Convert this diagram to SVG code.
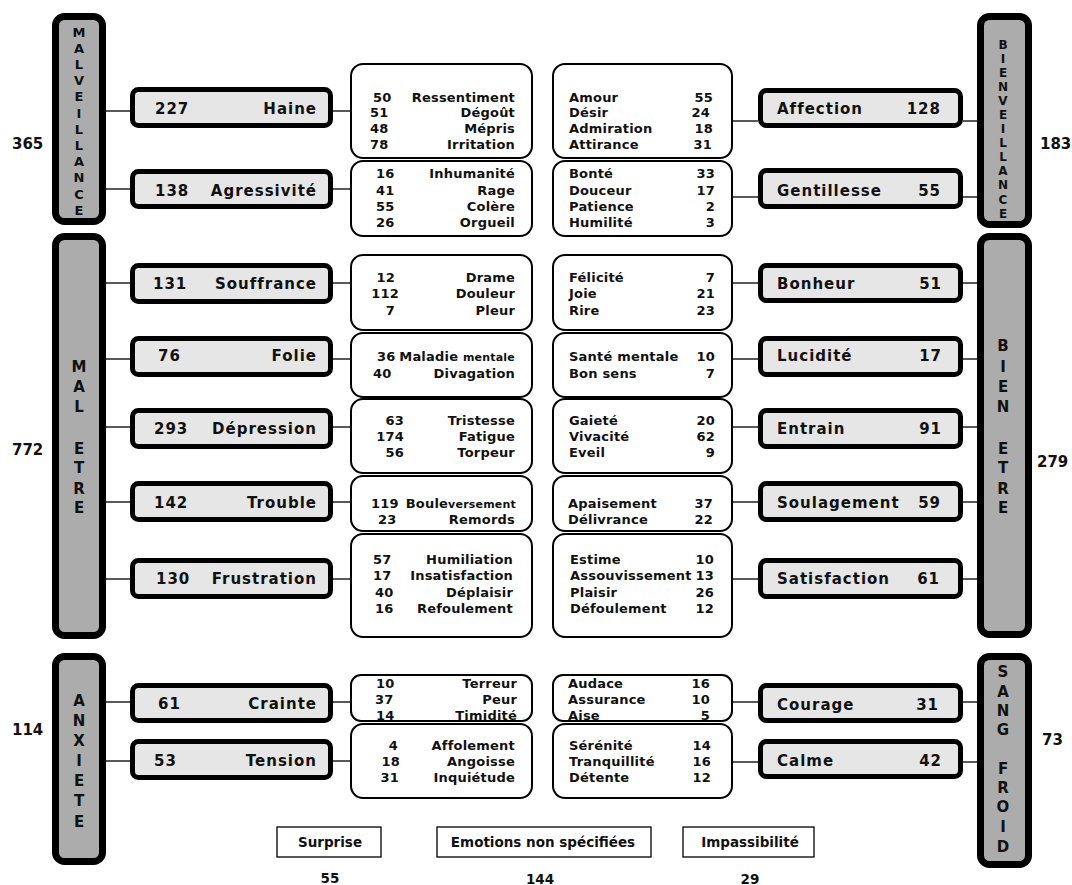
<svg xmlns="http://www.w3.org/2000/svg" width="1072" height="885" viewBox="0 0 1072 885">
<style>
text{font-family:"DejaVu Sans",Verdana,sans-serif;font-weight:bold;fill:#111}
.bar{fill:#acacac;stroke:#000;stroke-width:7}
.cat{fill:#e6e6e6;stroke:#000;stroke-width:5}
.sub{fill:#fff;stroke:#000;stroke-width:2}
.plain{fill:#fff;stroke:#000;stroke-width:1.3}
.conn line{stroke:#222;stroke-width:1.5}
.c{font-size:15px;letter-spacing:1px}
.m{font-size:13px;letter-spacing:0.2px}
.s{font-size:11px}
.v{font-size:15px;text-anchor:middle}
.v12{font-size:13px;text-anchor:middle}
.v11{font-size:12px;text-anchor:middle}
.t{font-size:15px}
.b{font-size:13.5px;text-anchor:middle}
.e{text-anchor:end}
</style>
<rect width="1072" height="885" fill="#fff"/>
<g id="connectors" class="conn">
<line x1="106" y1="111" x2="130" y2="111"/><line x1="333" y1="111" x2="350" y2="111"/>
<line x1="106" y1="189" x2="130" y2="189"/><line x1="333" y1="189" x2="350" y2="189"/>
<line x1="106" y1="283" x2="130" y2="283"/><line x1="333" y1="283" x2="350" y2="283"/>
<line x1="106" y1="359" x2="130" y2="359"/><line x1="333" y1="359" x2="350" y2="359"/>
<line x1="106" y1="427" x2="130" y2="427"/><line x1="333" y1="427" x2="350" y2="427"/>
<line x1="106" y1="502" x2="130" y2="502"/><line x1="333" y1="502" x2="350" y2="502"/>
<line x1="106" y1="579" x2="130" y2="579"/><line x1="333" y1="579" x2="350" y2="579"/>
<line x1="106" y1="702" x2="130" y2="702"/><line x1="333" y1="702" x2="350" y2="702"/>
<line x1="106" y1="761" x2="130" y2="761"/><line x1="333" y1="761" x2="350" y2="761"/>
<line x1="733" y1="121" x2="758" y2="121"/><line x1="963" y1="121" x2="977" y2="121"/>
<line x1="733" y1="197" x2="758" y2="197"/><line x1="963" y1="197" x2="977" y2="197"/>
<line x1="733" y1="283" x2="758" y2="283"/><line x1="963" y1="283" x2="977" y2="283"/>
<line x1="733" y1="359" x2="758" y2="359"/><line x1="963" y1="359" x2="977" y2="359"/>
<line x1="733" y1="427" x2="758" y2="427"/><line x1="963" y1="427" x2="977" y2="427"/>
<line x1="733" y1="502" x2="758" y2="502"/><line x1="963" y1="502" x2="977" y2="502"/>
<line x1="733" y1="579" x2="758" y2="579"/><line x1="963" y1="579" x2="977" y2="579"/>
<line x1="733" y1="702" x2="758" y2="702"/><line x1="963" y1="702" x2="977" y2="702"/>
<line x1="733" y1="762" x2="758" y2="762"/><line x1="963" y1="762" x2="977" y2="762"/>
</g>
<g id="malveillance">
<rect class="bar" x="55.5" y="16.5" width="47" height="205" rx="9"/>
<text class="v12" x="79" y="36.5">M</text><text class="v12" x="79" y="52.7">A</text><text class="v12" x="79" y="68.9">L</text><text class="v12" x="79" y="85.1">V</text><text class="v12" x="79" y="101.3">E</text><text class="v12" x="79" y="117.5">I</text><text class="v12" x="79" y="133.7">L</text><text class="v12" x="79" y="149.9">L</text><text class="v12" x="79" y="166.1">A</text><text class="v12" x="79" y="182.3">N</text><text class="v12" x="79" y="198.5">C</text><text class="v12" x="79" y="214.7">E</text>
<text class="t" x="12" y="149">365</text>
</g>
<g id="bienveillance">
<rect class="bar" x="980.5" y="16.5" width="48" height="208" rx="9"/>
<text class="v11" x="1003" y="48.6">B</text><text class="v11" x="1003" y="62.7">I</text><text class="v11" x="1003" y="76.8">E</text><text class="v11" x="1003" y="90.9">N</text><text class="v11" x="1003" y="104.9">V</text><text class="v11" x="1003" y="119">E</text><text class="v11" x="1003" y="133.1">I</text><text class="v11" x="1003" y="147.2">L</text><text class="v11" x="1003" y="161.3">L</text><text class="v11" x="1003" y="175.3">A</text><text class="v11" x="1003" y="189.4">N</text><text class="v11" x="1003" y="203.5">C</text><text class="v11" x="1003" y="217.6">E</text>
<text class="t" x="1040" y="149">183</text>
</g>
<g id="mal-etre">
<rect class="bar" x="55.5" y="236.5" width="47" height="399" rx="9"/>
<text class="v" x="79" y="371.5">M</text><text class="v" x="79" y="392">A</text><text class="v" x="79" y="412">L</text><text class="v" x="79" y="454">E</text><text class="v" x="79" y="473">T</text><text class="v" x="79" y="494">R</text><text class="v" x="79" y="513">E</text>
<text class="t" x="12" y="455">772</text>
</g>
<g id="bien-etre">
<rect class="bar" x="980.5" y="236.5" width="48" height="398" rx="9"/>
<text class="v" x="1003" y="351">B</text><text class="v" x="1003" y="372">I</text><text class="v" x="1003" y="392">E</text><text class="v" x="1003" y="412">N</text><text class="v" x="1003" y="454">E</text><text class="v" x="1003" y="473">T</text><text class="v" x="1003" y="494">R</text><text class="v" x="1003" y="513">E</text>
<text class="t" x="1037" y="467">279</text>
</g>
<g id="anxiete">
<rect class="bar" x="55.5" y="656.5" width="47" height="205" rx="9"/>
<text class="v" x="79" y="705.5">A</text><text class="v" x="79" y="725.5">N</text><text class="v" x="79" y="745.5">X</text><text class="v" x="79" y="765.5">I</text><text class="v" x="79" y="785.5">E</text><text class="v" x="79" y="805.5">T</text><text class="v" x="79" y="827">E</text>
<text class="t" x="12" y="735">114</text>
</g>
<g id="sang-froid">
<rect class="bar" x="980.5" y="656.5" width="48" height="208" rx="9"/>
<text class="v" x="1003" y="677">S</text><text class="v" x="1003" y="697">A</text><text class="v" x="1003" y="715.5">N</text><text class="v" x="1003" y="735">G</text><text class="v" x="1003" y="774">F</text><text class="v" x="1003" y="793">R</text><text class="v" x="1003" y="812">O</text><text class="v" x="1003" y="832">I</text><text class="v" x="1003" y="852">D</text>
<text class="t" x="1042" y="745">73</text>
</g>
<!-- left category boxes -->
<g id="haine"><rect class="cat" x="132.5" y="89.5" width="198" height="36" rx="6"/><text class="c" x="155" y="114">227</text><text class="c e" x="317" y="114">Haine</text></g>
<g id="agressivite"><rect class="cat" x="132.5" y="171.5" width="198" height="35" rx="6"/><text class="c" x="155" y="196">138</text><text class="c e" x="317" y="196">Agressivité</text></g>
<g id="souffrance"><rect class="cat" x="132.5" y="265.5" width="198" height="36" rx="6"/><text class="c" x="153" y="289">131</text><text class="c e" x="317" y="289">Souffrance</text></g>
<g id="folie"><rect class="cat" x="132.5" y="338.5" width="198" height="36" rx="6"/><text class="c" x="158" y="361">76</text><text class="c e" x="317" y="361">Folie</text></g>
<g id="depression"><rect class="cat" x="132.5" y="410.5" width="198" height="36" rx="6"/><text class="c" x="154" y="434">293</text><text class="c e" x="317" y="434">Dépression</text></g>
<g id="trouble"><rect class="cat" x="132.5" y="483.5" width="198" height="36" rx="6"/><text class="c" x="154" y="508">142</text><text class="c e" x="317" y="508">Trouble</text></g>
<g id="frustration"><rect class="cat" x="132.5" y="560.5" width="198" height="36" rx="6"/><text class="c" x="156" y="584">130</text><text class="c e" x="317" y="584">Frustration</text></g>
<g id="crainte"><rect class="cat" x="132.5" y="685.5" width="198" height="35" rx="6"/><text class="c" x="158" y="709">61</text><text class="c e" x="317" y="709">Crainte</text></g>
<g id="tension"><rect class="cat" x="132.5" y="741.5" width="198" height="36" rx="6"/><text class="c" x="154" y="766">53</text><text class="c e" x="317" y="766">Tension</text></g>
<!-- right category boxes -->
<g id="affection"><rect class="cat" x="760.5" y="90.5" width="200" height="35" rx="6"/><text class="c" x="777" y="114">Affection</text><text class="c e" x="941" y="114">128</text></g>
<g id="gentillesse"><rect class="cat" x="760.5" y="170.5" width="200" height="36" rx="6"/><text class="c" x="777" y="196">Gentillesse</text><text class="c e" x="941" y="196">55</text></g>
<g id="bonheur"><rect class="cat" x="760.5" y="265.5" width="200" height="35" rx="6"/><text class="c" x="777" y="289">Bonheur</text><text class="c e" x="942" y="289">51</text></g>
<g id="lucidite"><rect class="cat" x="760.5" y="338.5" width="200" height="36" rx="6"/><text class="c" x="777" y="361">Lucidité</text><text class="c e" x="942" y="361">17</text></g>
<g id="entrain"><rect class="cat" x="760.5" y="410.5" width="200" height="36" rx="6"/><text class="c" x="777" y="434">Entrain</text><text class="c e" x="942" y="434">91</text></g>
<g id="soulagement"><rect class="cat" x="760.5" y="483.5" width="200" height="36" rx="6"/><text class="c" x="777" y="508">Soulagement</text><text class="c e" x="941" y="508">59</text></g>
<g id="satisfaction"><rect class="cat" x="760.5" y="560.5" width="200" height="36" rx="6"/><text class="c" x="777" y="584">Satisfaction</text><text class="c e" x="940" y="584">61</text></g>
<g id="courage"><rect class="cat" x="760.5" y="685.5" width="200" height="35" rx="6"/><text class="c" x="777" y="710">Courage</text><text class="c e" x="939" y="710">31</text></g>
<g id="calme"><rect class="cat" x="760.5" y="741.5" width="200" height="35" rx="6"/><text class="c" x="777" y="766">Calme</text><text class="c e" x="942" y="766">42</text></g>
<!-- middle left boxes -->
<g id="haine-detail"><rect class="sub" x="351" y="64" width="181" height="94" rx="12"/>
<text class="m" x="373" y="102">50</text><text class="m e" x="515" y="102">Ressentiment</text>
<text class="m" x="370" y="117">51</text><text class="m e" x="515" y="117">Dégoût</text>
<text class="m" x="370" y="133">48</text><text class="m e" x="515" y="133">Mépris</text>
<text class="m" x="370" y="149">78</text><text class="m e" x="515" y="149">Irritation</text></g>
<g id="agressivite-detail"><rect class="sub" x="351" y="161" width="181" height="75" rx="12"/>
<text class="m" x="376" y="178">16</text><text class="m e" x="515" y="178">Inhumanité</text>
<text class="m" x="376" y="195">41</text><text class="m e" x="515" y="195">Rage</text>
<text class="m" x="376" y="211">55</text><text class="m e" x="515" y="211">Colère</text>
<text class="m" x="376" y="227">26</text><text class="m e" x="515" y="227">Orgueil</text></g>
<g id="souffrance-detail"><rect class="sub" x="351" y="255" width="181" height="75" rx="12"/>
<text class="m e" x="395" y="282">12</text><text class="m e" x="515" y="282">Drame</text>
<text class="m e" x="399" y="298">112</text><text class="m e" x="515" y="298">Douleur</text>
<text class="m e" x="395" y="315">7</text><text class="m e" x="515" y="315">Pleur</text></g>
<g id="folie-detail"><rect class="sub" x="351" y="333" width="181" height="64" rx="12"/>
<text class="m" x="377" y="361">36</text><text class="m e" x="515" y="361">Maladie <tspan class="s">mentale</tspan></text>
<text class="m" x="373" y="378">40</text><text class="m e" x="515" y="378">Divagation</text></g>
<g id="depression-detail"><rect class="sub" x="351" y="399" width="181" height="74" rx="12"/>
<text class="m e" x="404" y="425">63</text><text class="m e" x="515" y="425">Tristesse</text>
<text class="m e" x="404" y="441">174</text><text class="m e" x="515" y="441">Fatigue</text>
<text class="m e" x="404" y="457">56</text><text class="m e" x="515" y="457">Torpeur</text></g>
<g id="trouble-detail"><rect class="sub" x="351" y="476" width="181" height="55" rx="12"/>
<text class="m" x="371" y="508">119</text><text class="m e" x="516" y="508">Boule<tspan class="s">versement</tspan></text>
<text class="m" x="378" y="524">23</text><text class="m e" x="515" y="524">Remords</text></g>
<g id="frustration-detail"><rect class="sub" x="351" y="534" width="181" height="103" rx="12"/>
<text class="m" x="373" y="564">57</text><text class="m e" x="513" y="564">Humiliation</text>
<text class="m" x="373" y="580">17</text><text class="m e" x="513" y="580">Insatisfaction</text>
<text class="m" x="375" y="597">40</text><text class="m e" x="513" y="597">Déplaisir</text>
<text class="m" x="375" y="613">16</text><text class="m e" x="513" y="613">Refoulement</text></g>
<g id="crainte-detail"><rect class="sub" x="351" y="675" width="181" height="46" rx="10"/>
<text class="m" x="376" y="688">10</text><text class="m e" x="517" y="688">Terreur</text>
<text class="m" x="375" y="704">37</text><text class="m e" x="517" y="704">Peur</text>
<text class="m" x="376" y="720">14</text><text class="m e" x="517" y="720">Timidité</text></g>
<g id="tension-detail"><rect class="sub" x="351" y="724" width="181" height="74" rx="12"/>
<text class="m e" x="398" y="750">4</text><text class="m e" x="515" y="750">Affolement</text>
<text class="m e" x="400" y="766">18</text><text class="m e" x="515" y="766">Angoisse</text>
<text class="m e" x="399" y="782">31</text><text class="m e" x="515" y="782">Inquiétude</text></g>
<!-- middle right boxes -->
<g id="affection-detail"><rect class="sub" x="553" y="64" width="179" height="94" rx="12"/>
<text class="m" x="569" y="102">Amour</text><text class="m e" x="713" y="102">55</text>
<text class="m" x="569" y="117">Désir</text><text class="m e" x="710" y="117">24</text>
<text class="m" x="569" y="133">Admiration</text><text class="m e" x="713" y="133">18</text>
<text class="m" x="569" y="149">Attirance</text><text class="m e" x="712" y="149">31</text></g>
<g id="gentillesse-detail"><rect class="sub" x="553" y="161" width="179" height="75" rx="12"/>
<text class="m" x="569" y="178">Bonté</text><text class="m e" x="715" y="178">33</text>
<text class="m" x="569" y="195">Douceur</text><text class="m e" x="715" y="195">17</text>
<text class="m" x="569" y="211">Patience</text><text class="m e" x="715" y="211">2</text>
<text class="m" x="569" y="227">Humilité</text><text class="m e" x="715" y="227">3</text></g>
<g id="bonheur-detail"><rect class="sub" x="553" y="255" width="179" height="75" rx="12"/>
<text class="m" x="569" y="282">Félicité</text><text class="m e" x="715" y="282">7</text>
<text class="m" x="569" y="298">Joie</text><text class="m e" x="715" y="298">21</text>
<text class="m" x="569" y="315">Rire</text><text class="m e" x="715" y="315">23</text></g>
<g id="lucidite-detail"><rect class="sub" x="553" y="333" width="179" height="64" rx="12"/>
<text class="m" x="569" y="361">Santé mentale</text><text class="m e" x="715" y="361">10</text>
<text class="m" x="569" y="378">Bon sens</text><text class="m e" x="715" y="378">7</text></g>
<g id="entrain-detail"><rect class="sub" x="553" y="399" width="179" height="74" rx="12"/>
<text class="m" x="569" y="425">Gaieté</text><text class="m e" x="715" y="425">20</text>
<text class="m" x="569" y="441">Vivacité</text><text class="m e" x="715" y="441">62</text>
<text class="m" x="569" y="457">Eveil</text><text class="m e" x="715" y="457">9</text></g>
<g id="soulagement-detail"><rect class="sub" x="553" y="476" width="179" height="55" rx="12"/>
<text class="m" x="568" y="508">Apaisement</text><text class="m e" x="713" y="508">37</text>
<text class="m" x="568" y="524">Délivrance</text><text class="m e" x="713" y="524">22</text></g>
<g id="satisfaction-detail"><rect class="sub" x="553" y="534" width="179" height="103" rx="12"/>
<text class="m" x="570" y="564">Estime</text><text class="m e" x="714" y="564">10</text>
<text class="m" x="570" y="580">Assouvissement</text><text class="m e" x="714" y="580">13</text>
<text class="m" x="570" y="597">Plaisir</text><text class="m e" x="714" y="597">26</text>
<text class="m" x="570" y="613">Défoulement</text><text class="m e" x="714" y="613">12</text></g>
<g id="courage-detail"><rect class="sub" x="553" y="675" width="179" height="46" rx="10"/>
<text class="m" x="568" y="688">Audace</text><text class="m e" x="710" y="688">16</text>
<text class="m" x="568" y="704">Assurance</text><text class="m e" x="710" y="704">10</text>
<text class="m" x="568" y="720">Aise</text><text class="m e" x="710" y="720">5</text></g>
<g id="calme-detail"><rect class="sub" x="553" y="724" width="179" height="74" rx="12"/>
<text class="m" x="569" y="750">Sérénité</text><text class="m e" x="711" y="750">14</text>
<text class="m" x="569" y="766">Tranquillité</text><text class="m e" x="711" y="766">16</text>
<text class="m" x="569" y="782">Détente</text><text class="m e" x="711" y="782">12</text></g>
<!-- bottom -->
<g id="surprise"><rect class="plain" x="277" y="827" width="104" height="30"/><text class="b" x="330" y="847">Surprise</text><text class="b" x="330" y="883">55</text></g>
<g id="non-specifiees"><rect class="plain" x="437" y="827" width="214" height="30"/><text class="b" x="543" y="847">Emotions non spécifiées</text><text class="b" x="540" y="884">144</text></g>
<g id="impassibilite"><rect class="plain" x="683" y="827" width="131" height="30"/><text class="b" x="750" y="847">Impassibilité</text><text class="b" x="750" y="884">29</text></g>
</svg>
